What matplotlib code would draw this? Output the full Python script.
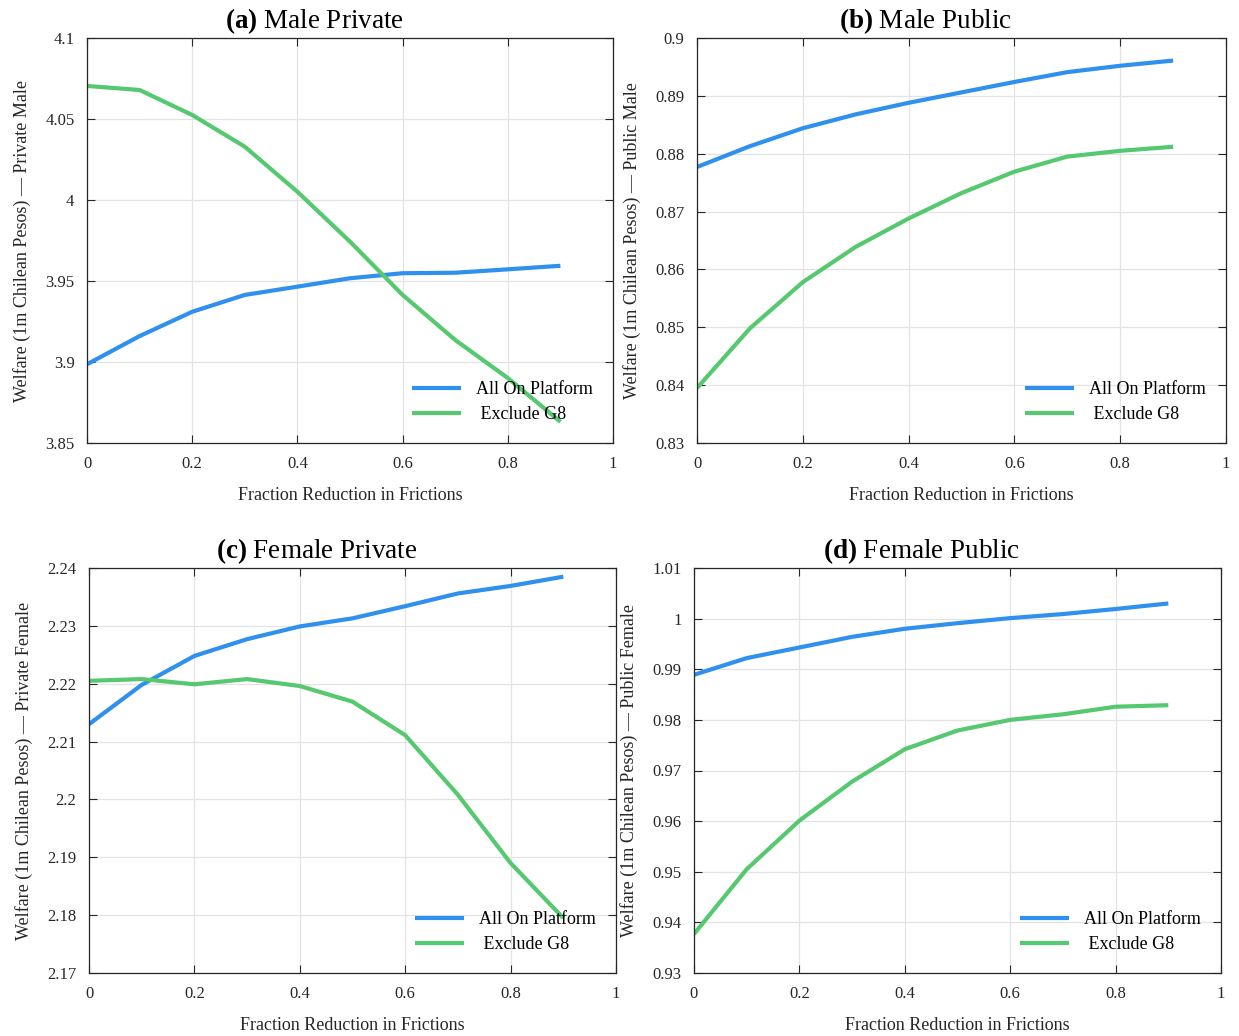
import numpy as np
import matplotlib
matplotlib.use("Agg")
import matplotlib.pyplot as plt
from matplotlib.ticker import FuncFormatter

plt.rcParams['font.family'] = ['Liberation Serif', 'DejaVu Serif']
plt.rcParams['mathtext.fontset'] = 'custom'
plt.rcParams['mathtext.rm'] = 'Liberation Serif'
plt.rcParams['mathtext.bf'] = 'Liberation Serif:bold'

# ── datos ────────────────────────────────────────────────────────────────────
frac = [0.0, 0.1, 0.2, 0.3, 0.4, 0.5, 0.6, 0.7, 0.8, 0.9]

male_priv_all  = [3.8986, 3.9160, 3.9310, 3.9414, 3.9465, 3.9517, 3.9548, 3.9551, 3.9572, 3.9594]
male_priv_excl = [4.0704, 4.0679, 4.0525, 4.0329, 4.0051, 3.9743, 3.9414, 3.9136, 3.8901, 3.8631]

male_pub_all  = [0.8777, 0.8813, 0.8844, 0.8868, 0.8888, 0.8906, 0.8924, 0.8941, 0.8952, 0.8961]
male_pub_excl = [0.8395, 0.8498, 0.8578, 0.8639, 0.8688, 0.8732, 0.8769, 0.8795, 0.8805, 0.8812]

fem_priv_all  = [2.2130, 2.2198, 2.2248, 2.2277, 2.2299, 2.2313, 2.2334, 2.2356, 2.2369, 2.2385]
fem_priv_excl = [2.2205, 2.2208, 2.2199, 2.2208, 2.2196, 2.2169, 2.2111, 2.2008, 2.1890, 2.1795]

fem_pub_all  = [0.9889, 0.9922, 0.9943, 0.9964, 0.9980, 0.9991, 1.0001, 1.0009, 1.0019, 1.0030]
fem_pub_excl = [0.9377, 0.9505, 0.9601, 0.9678, 0.9742, 0.9779, 0.9800, 0.9811, 0.9826, 0.9829]

panels = [
    ("(a)", "Male Private",   "Private Male",   male_priv_all, male_priv_excl, (3.85, 4.1),  [3.85, 3.9, 3.95, 4.0, 4.05, 4.1]),
    ("(b)", "Male Public",    "Public Male",    male_pub_all,  male_pub_excl,  (0.83, 0.9),  [0.83, 0.84, 0.85, 0.86, 0.87, 0.88, 0.89, 0.9]),
    ("(c)", "Female Private", "Private Female", fem_priv_all,  fem_priv_excl,  (2.17, 2.24), [2.17, 2.18, 2.19, 2.2, 2.21, 2.22, 2.23, 2.24]),
    ("(d)", "Female Public",  "Public Female",  fem_pub_all,   fem_pub_excl,   (0.93, 1.01), [0.93, 0.94, 0.95, 0.96, 0.97, 0.98, 0.99, 1.0, 1.01]),
]

# posiciones en pixeles (izq, der, arriba, abajo) sobre 1239x1036
W, H = 1239, 1036
boxes = [(87, 613, 38, 443), (697, 1226, 38, 443), (89, 616, 568, 973), (694, 1221, 568, 973)]

BLUE  = '#3090EE'
GREEN = '#55C870'
EDGE  = '#262626'

fig = plt.figure(figsize=(W/100, H/100), dpi=100)

for (tag, title, ylab, y_all, y_excl, ylim, yticks), (l, r, t, b) in zip(panels, boxes):
    ax = fig.add_axes([l/W, 1 - b/H, (r - l)/W, (b - t)/H])
    ax.plot(frac, y_all,  color=BLUE,  lw=3.0, label='All On Platform', solid_capstyle='butt')
    ax.plot(frac, y_excl, color=GREEN, lw=3.0, label=' Exclude G8', solid_capstyle='butt')
    ax.set_xlim(0, 1)
    ax.set_ylim(*ylim)
    ax.set_xticks([0, 0.2, 0.4, 0.6, 0.8, 1])
    ax.set_yticks(yticks)
    fmt = FuncFormatter(lambda v, p: f"{v:.4g}")
    ax.xaxis.set_major_formatter(fmt)
    ax.yaxis.set_major_formatter(fmt)
    ax.grid(True, color='#e3e3e3', lw=0.9)
    ax.set_axisbelow(True)
    ax.tick_params(direction='in', length=6, width=0.8, top=True, right=True,
                   labelsize=12, colors=EDGE, pad=9)
    for s in ax.spines.values():
        s.set_color(EDGE); s.set_linewidth(0.9)
    ax.set_xlabel("Fraction Reduction in Frictions", fontsize=13, color=EDGE, labelpad=11)
    ax.set_ylabel(f"Welfare (1m Chilean Pesos) — {ylab}", fontsize=13, color=EDGE, labelpad=10)
    # el titulo va algo desplazado a la izquierda (centrado con la etiqueta y)
    xt = ((l + r) / 2 - 36 - l) / (r - l)
    ax.set_title(r"$\mathbf{" + tag + r"}$ " + title, x=xt,
                 fontsize=19.5, color='black', pad=7)
    ax.legend(loc='lower right', frameon=False, fontsize=13, handlelength=2.7,
              handletextpad=0.85, labelspacing=0.45, borderaxespad=0.7)

fig.savefig("out.png", dpi=100)
